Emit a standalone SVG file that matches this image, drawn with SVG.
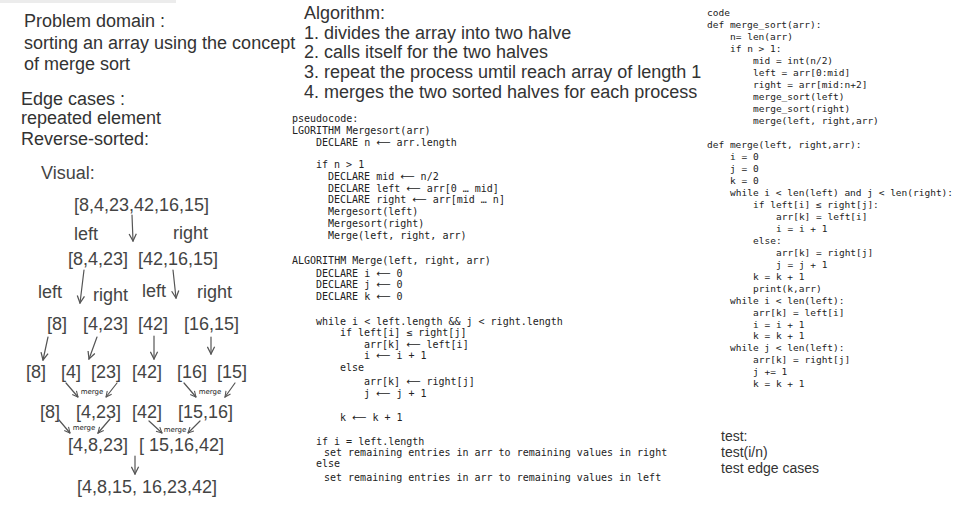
<svg xmlns="http://www.w3.org/2000/svg" width="956" height="519" viewBox="0 0 956 519">
  <style>
    .sans { font-family: "Liberation Sans", Arial, sans-serif; fill: #333; }
    .big { font-size: 18px; }
    .tree { font-family: "Liberation Sans", Arial, sans-serif; font-size: 18px; fill: #444; }
    .small { font-family: "DejaVu Sans", sans-serif; font-size: 7px; fill: #222; }
    .pseudo { font-family: "DejaVu Sans Mono", monospace; font-size: 10px; fill: #222; }
    .code { font-family: "DejaVu Sans Mono", monospace; font-size: 9.5px; fill: #222; }
    .arw { font-family: "DejaVu Sans", sans-serif; }
    .test { font-family: "Liberation Sans", Arial, sans-serif; font-size: 14px; fill: #333; }
    .edge { fill: none; stroke: #555; stroke-width: 1.2; stroke-linecap: round; }
  </style>
  <defs>
    <marker id="head" viewBox="0 0 10 10" refX="9" refY="5" markerWidth="9" markerHeight="9" markerUnits="userSpaceOnUse" orient="auto">
      <path d="M1,1 L9,5 L1,9" fill="none" stroke="#555" stroke-width="1.4"/>
    </marker>
    <marker id="headSmall" viewBox="0 0 10 10" refX="9" refY="5" markerWidth="7" markerHeight="7" markerUnits="userSpaceOnUse" orient="auto">
      <path d="M1,1 L9,5 L1,9" fill="none" stroke="#555" stroke-width="1.5"/>
    </marker>
  </defs>

  <rect width="956" height="519" fill="#ffffff"/>
  <rect x="0" y="0" width="176" height="3" fill="#ececec"/>

  <!-- problem statement -->
  <g id="problem-domain" class="sans big">
    <text x="24" y="27">Problem domain :</text>
    <text x="24" y="49">sorting an array using the concept</text>
    <text x="24" y="69.5">of merge sort</text>
  </g>

  <g id="edge-cases" class="sans big">
    <text x="21" y="104.5">Edge cases :</text>
    <text x="21" y="124">repeated element</text>
    <text x="21" y="145">Reverse-sorted:</text>
  </g>

  <g id="algorithm" class="sans big">
    <text x="304" y="18.5">Algorithm:</text>
    <text x="304" y="38.5">1. divides the array into two halve</text>
    <text x="304" y="58">2. calls itself for the two halves</text>
    <text x="304" y="78">3. repeat the process umtil reach array of length 1</text>
    <text x="304" y="98">4. merges the two sorted halves for each process</text>
  </g>

  <!-- visual split / merge tree -->
  <g id="visual-title" class="tree"><text x="41" y="179">Visual:</text></g>

  <g id="n-root" class="tree"><text x="74" y="211">[8,4,23,42,16,15]</text></g>
  <g id="lbl-left-1" class="tree"><text x="74" y="240">left</text></g>
  <g id="lbl-right-1" class="tree"><text x="173" y="239">right</text></g>

  <g id="n-l" class="tree"><text x="68" y="265">[8,4,23]</text></g>
  <g id="n-r" class="tree"><text x="138" y="265">[42,16,15]</text></g>

  <g id="lbl-left-2a" class="tree"><text x="38" y="298">left</text></g>
  <g id="lbl-right-2a" class="tree"><text x="93" y="301">right</text></g>
  <g id="lbl-left-2b" class="tree"><text x="142" y="297">left</text></g>
  <g id="lbl-right-2b" class="tree"><text x="197" y="298">right</text></g>

  <g id="n-ll" class="tree"><text x="47" y="330">[8]</text></g>
  <g id="n-lr" class="tree"><text x="83" y="330">[4,23]</text></g>
  <g id="n-rl" class="tree"><text x="138" y="330">[42]</text></g>
  <g id="n-rr" class="tree"><text x="184" y="330">[16,15]</text></g>

  <g id="leaf-8" class="tree"><text x="26" y="378">[8]</text></g>
  <g id="leaf-4" class="tree"><text x="61" y="378">[4]</text></g>
  <g id="leaf-23" class="tree"><text x="91" y="378">[23]</text></g>
  <g id="leaf-42" class="tree"><text x="132" y="378">[42]</text></g>
  <g id="leaf-16" class="tree"><text x="177" y="378">[16]</text></g>
  <g id="leaf-15" class="tree"><text x="217" y="378">[15]</text></g>

  <g id="m-8" class="tree"><text x="40" y="418">[8]</text></g>
  <g id="m-4-23" class="tree"><text x="76" y="418">[4,23]</text></g>
  <g id="m-42" class="tree"><text x="132" y="418">[42]</text></g>
  <g id="m-15-16" class="tree"><text x="178" y="418">[15,16]</text></g>

  <g id="m-4-8-23" class="tree"><text x="68" y="451">[4,8,23]</text></g>
  <g id="m-15-16-42" class="tree"><text x="139" y="451">[ 15,16,42]</text></g>

  <g id="sorted" class="tree"><text x="77" y="493">[4,8,15, 16,23,42]</text></g>

  <g id="merge-labels" class="small" text-anchor="middle">
    <text x="92" y="394">merge</text>
    <text x="210" y="394">merge</text>
    <text x="84" y="430">merge</text>
    <text x="175" y="432">merge</text>
  </g>

  <g id="connectors">
    <path class="edge" marker-end="url(#head)" d="M132,215 L133,241"/>
    <path class="edge" marker-end="url(#head)" d="M84,270 L80,303"/>
    <path class="edge" marker-end="url(#head)" d="M173,270 L176,298"/>
    <path class="edge" marker-end="url(#head)" d="M48,337 L43,360"/>
    <path class="edge" marker-end="url(#head)" d="M97,337 L89,359"/>
    <path class="edge" marker-end="url(#head)" d="M154,336 L154,359"/>
    <path class="edge" marker-end="url(#head)" d="M211,337 L211,354"/>
    <path class="edge" marker-end="url(#headSmall)" d="M66,383 L78,397"/>
    <path class="edge" marker-end="url(#headSmall)" d="M117,383 L106,397"/>
    <path class="edge" marker-end="url(#headSmall)" d="M184,383 L196,397"/>
    <path class="edge" marker-end="url(#headSmall)" d="M235,383 L225,397"/>
    <path class="edge" marker-end="url(#headSmall)" d="M59,420 L70,433"/>
    <path class="edge" marker-end="url(#headSmall)" d="M110,419 L98,433"/>
    <path class="edge" marker-end="url(#headSmall)" d="M149,421 L162,433"/>
    <path class="edge" marker-end="url(#headSmall)" d="M200,421 L188,433"/>
    <path class="edge" marker-end="url(#head)" d="M135,456 L135,474"/>
  </g>

  <!-- pseudocode -->
  <g id="pseudocode" class="pseudo">
    <text x="292" y="122">pseudocode:</text>
    <text x="292" y="133.5">LGORITHM Mergesort(arr)</text>
    <text x="316" y="145.5">DECLARE n <tspan class="arw">⟵</tspan> arr.length</text>
    <text x="316" y="167.5">if n &gt; 1</text>
    <text x="328" y="179.5">DECLARE mid <tspan class="arw">⟵</tspan> n/2</text>
    <text x="328" y="191.5">DECLARE left <tspan class="arw">⟵</tspan> arr[0 … mid]</text>
    <text x="328" y="203">DECLARE right <tspan class="arw">⟵</tspan> arr[mid … n]</text>
    <text x="328" y="215">Mergesort(left)</text>
    <text x="328" y="227">Mergesort(right)</text>
    <text x="328" y="238.5">Merge(left, right, arr)</text>
    <text x="292" y="263.5">ALGORITHM Merge(left, right, arr)</text>
    <text x="316" y="276.5">DECLARE i <tspan class="arw">⟵</tspan> 0</text>
    <text x="316" y="288">DECLARE j <tspan class="arw">⟵</tspan> 0</text>
    <text x="316" y="299.5">DECLARE k <tspan class="arw">⟵</tspan> 0</text>
    <text x="316" y="324.5">while i &lt; left.length &amp;&amp; j &lt; right.length</text>
    <text x="340" y="336">if left[i] ≤ right[j]</text>
    <text x="364" y="347.5">arr[k] <tspan class="arw">⟵</tspan> left[i]</text>
    <text x="364" y="359">i <tspan class="arw">⟵</tspan> i + 1</text>
    <text x="340" y="370.5">else</text>
    <text x="364" y="384.5">arr[k] <tspan class="arw">⟵</tspan> right[j]</text>
    <text x="364" y="396.5">j <tspan class="arw">⟵</tspan> j + 1</text>
    <text x="340" y="420.5">k <tspan class="arw">⟵</tspan> k + 1</text>
    <text x="316" y="444.5">if i = left.length</text>
    <text x="324" y="455.5">set remaining entries in arr to remaining values in right</text>
    <text x="316" y="466.5">else</text>
    <text x="324" y="480.5">set remaining entries in arr to remaining values in left</text>
  </g>

  <!-- python code -->
  <g id="code" class="code">
    <text x="707" y="16">code</text>
    <text x="707" y="28">def merge_sort(arr):</text>
    <text x="730" y="40">n= len(arr)</text>
    <text x="730" y="52">if n &gt; 1:</text>
    <text x="753" y="63.5">mid = int(n/2)</text>
    <text x="753" y="75.5">left = arr[0:mid]</text>
    <text x="753" y="87.5">right = arr[mid:n+2]</text>
    <text x="753" y="99.5">merge_sort(left)</text>
    <text x="753" y="111.5">merge_sort(right)</text>
    <text x="753" y="123.5">merge(left, right,arr)</text>
    <text x="707" y="148">def merge(left, right,arr):</text>
    <text x="730" y="160">i = 0</text>
    <text x="730" y="172">j = 0</text>
    <text x="730" y="184">k = 0</text>
    <text x="730" y="196">while i &lt; len(left) and j &lt; len(right):</text>
    <text x="753" y="208">if left[i] ≤ right[j]:</text>
    <text x="776" y="219.5">arr[k] = left[i]</text>
    <text x="776" y="231.5">i = i + 1</text>
    <text x="753" y="243.5">else:</text>
    <text x="776" y="255.5">arr[k] = right[j]</text>
    <text x="776" y="267.5">j = j + 1</text>
    <text x="753" y="279.5">k = k + 1</text>
    <text x="753" y="291.5">print(k,arr)</text>
    <text x="730" y="303.5">while i &lt; len(left):</text>
    <text x="753" y="315.5">arr[k] = left[i]</text>
    <text x="753" y="327.5">i = i + 1</text>
    <text x="753" y="339">k = k + 1</text>
    <text x="730" y="351">while j &lt; len(left):</text>
    <text x="753" y="363">arr[k] = right[j]</text>
    <text x="753" y="375">j += 1</text>
    <text x="753" y="387">k = k + 1</text>
  </g>

  <g id="tests" class="test">
    <text x="721" y="441">test:</text>
    <text x="721" y="457">test(i/n)</text>
    <text x="721" y="473">test edge cases</text>
  </g>
</svg>
